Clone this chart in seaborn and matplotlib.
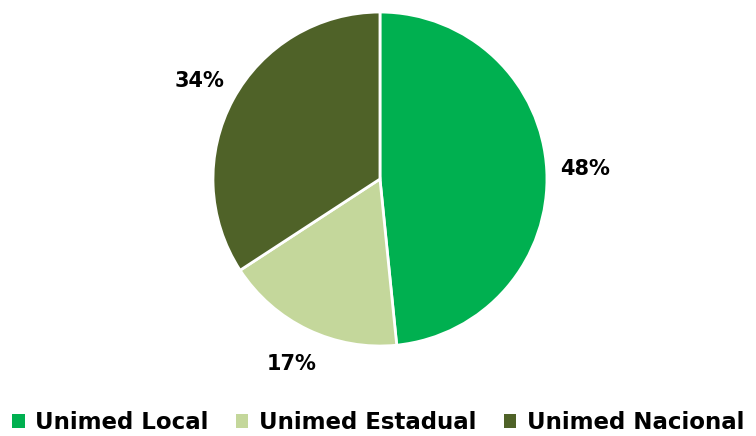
import matplotlib
matplotlib.use('Agg')
import matplotlib.pyplot as plt
from matplotlib.patches import Patch
import seaborn as sns

categories = ['Unimed Local', 'Unimed Estadual', 'Unimed Nacional']
shares = [48.4, 17.4, 34.2]
pct_labels = ['48%', '17%', '34%']
colors = ['#00B050', '#C4D79B', '#4F6228']

sns.set_theme(style='white')
plt.rcParams['font.family'] = ['DejaVu Sans']

fig = plt.figure(figsize=(7.56, 4.36), dpi=100)
ax = fig.add_axes([0.2817, 0.2064, 0.4418, 0.766])

wedges, texts = ax.pie(shares, labels=pct_labels, colors=colors, startangle=90,
                       counterclock=False, labeldistance=1.23, radius=1,
                       wedgeprops=dict(edgecolor='white', linewidth=2),
                       textprops=dict(fontsize=15, fontweight='bold', color='black',
                                      ha='center', va='center'))
ax.set_xlim(-1, 1)
ax.set_ylim(-1, 1)
ax.set_axis_off()

handles = [Patch(facecolor=c, edgecolor='none') for c in colors]
leg = fig.legend(handles, categories, loc='center', bbox_to_anchor=(0.5, 0.03), ncol=3,
                 frameon=False, prop=dict(size=16.5, weight='bold'),
                 handlelength=0.55, handleheight=0.55, handletextpad=0.45, columnspacing=1.2)
for t in leg.get_texts():
    t.set_color('black')

fig.savefig('out.png', dpi=100)
